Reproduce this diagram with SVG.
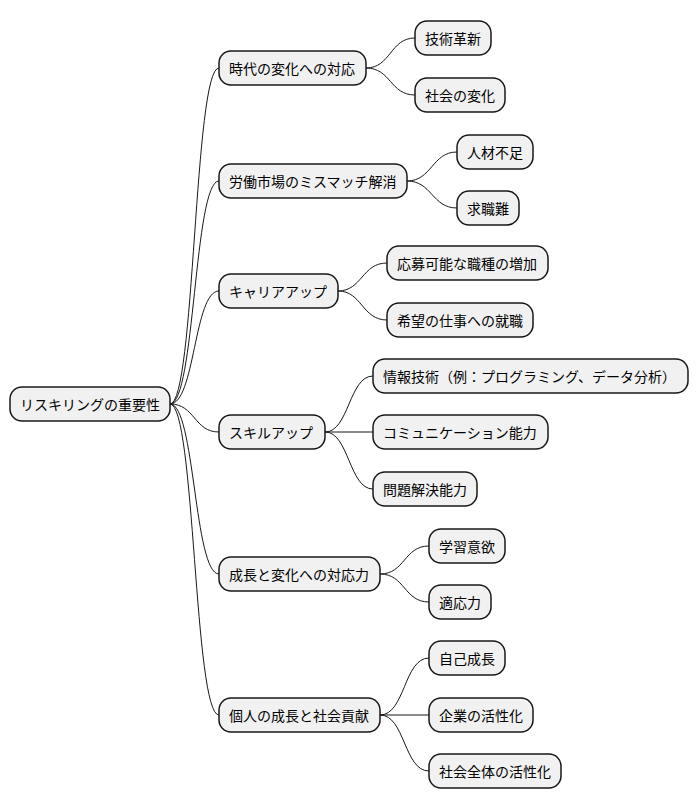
<svg xmlns="http://www.w3.org/2000/svg" width="698" height="809" viewBox="0 0 698 809">
<style>
.n rect{fill:#F1F1F1;stroke:#181818;stroke-width:1.5}
.n text{font-family:"Noto Sans CJK JP","Noto Sans",sans-serif;font-size:14px;fill:#000;dominant-baseline:central}
#c path{fill:none;stroke:#181818;stroke-width:1}
</style>
<rect width="698" height="809" fill="#fff"/>
<g id="c">
<path d="M170 404 C195 404 194 68 219 68"/>
<path d="M170 404 C195 404 194 181 219 181"/>
<path d="M170 404 C195 404 194 291 219 291"/>
<path d="M170 404 C195 404 194 432 219 432"/>
<path d="M170 404 C195 404 194 574 219 574"/>
<path d="M170 404 C195 404 194 715 219 715"/>
<path d="M366 68 C391 68 390 38 415 38"/>
<path d="M366 68 C391 68 390 95 415 95"/>
<path d="M407 181 C432 181 432 152 457 152"/>
<path d="M407 181 C432 181 432 208 457 208"/>
<path d="M338 291 C362 291 362 263 387 263"/>
<path d="M338 291 C362 291 362 320 387 320"/>
<path d="M325 432 C349 432 349 376 373 376"/>
<path d="M325 432 L373 432"/>
<path d="M325 432 C349 432 349 489 373 489"/>
<path d="M380 574 C405 574 404 546 429 546"/>
<path d="M380 574 C405 574 404 602 429 602"/>
<path d="M380 715 C405 715 404 658 429 658"/>
<path d="M380 715 L429 715"/>
<path d="M380 715 C405 715 404 771 429 771"/>
</g>
<g id="root" class="n"><rect x="10" y="387" width="160" height="34" rx="12"/><text x="20" y="404">リスキリングの重要性</text></g>
<g id="n1" class="n"><rect x="219" y="51" width="147" height="34" rx="12"/><text x="229" y="68">時代の変化への対応</text></g>
<g id="n2" class="n"><rect x="219" y="164" width="188" height="34" rx="12"/><text x="229" y="181">労働市場のミスマッチ解消</text></g>
<g id="n3" class="n"><rect x="219" y="274" width="119" height="34" rx="12"/><text x="229" y="291">キャリアアップ</text></g>
<g id="n4" class="n"><rect x="219" y="415" width="106" height="34" rx="12"/><text x="229" y="432">スキルアップ</text></g>
<g id="n5" class="n"><rect x="219" y="557" width="161" height="34" rx="12"/><text x="229" y="574">成長と変化への対応力</text></g>
<g id="n6" class="n"><rect x="219" y="698" width="161" height="34" rx="12"/><text x="229" y="715">個人の成長と社会貢献</text></g>
<g id="n11" class="n"><rect x="415" y="21" width="76" height="34" rx="12"/><text x="425" y="38">技術革新</text></g>
<g id="n12" class="n"><rect x="415" y="78" width="90" height="34" rx="12"/><text x="425" y="95">社会の変化</text></g>
<g id="n21" class="n"><rect x="457" y="135" width="76" height="34" rx="12"/><text x="467" y="152">人材不足</text></g>
<g id="n22" class="n"><rect x="457" y="191" width="62" height="34" rx="12"/><text x="467" y="208">求職難</text></g>
<g id="n31" class="n"><rect x="387" y="246" width="161" height="34" rx="12"/><text x="397" y="263">応募可能な職種の増加</text></g>
<g id="n32" class="n"><rect x="387" y="303" width="146" height="34" rx="12"/><text x="397" y="320">希望の仕事への就職</text></g>
<g id="n41" class="n"><rect x="373" y="359" width="315" height="34" rx="12"/><text x="383" y="376">情報技術（例：プログラミング、データ分析）</text></g>
<g id="n42" class="n"><rect x="373" y="415" width="175" height="34" rx="12"/><text x="383" y="432">コミュニケーション能力</text></g>
<g id="n43" class="n"><rect x="373" y="472" width="104" height="34" rx="12"/><text x="383" y="489">問題解決能力</text></g>
<g id="n51" class="n"><rect x="429" y="529" width="76" height="34" rx="12"/><text x="439" y="546">学習意欲</text></g>
<g id="n52" class="n"><rect x="429" y="585" width="62" height="34" rx="12"/><text x="439" y="602">適応力</text></g>
<g id="n61" class="n"><rect x="429" y="641" width="76" height="34" rx="12"/><text x="439" y="658">自己成長</text></g>
<g id="n62" class="n"><rect x="429" y="698" width="104" height="34" rx="12"/><text x="439" y="715">企業の活性化</text></g>
<g id="n63" class="n"><rect x="429" y="754" width="132" height="34" rx="12"/><text x="439" y="771">社会全体の活性化</text></g>
</svg>
